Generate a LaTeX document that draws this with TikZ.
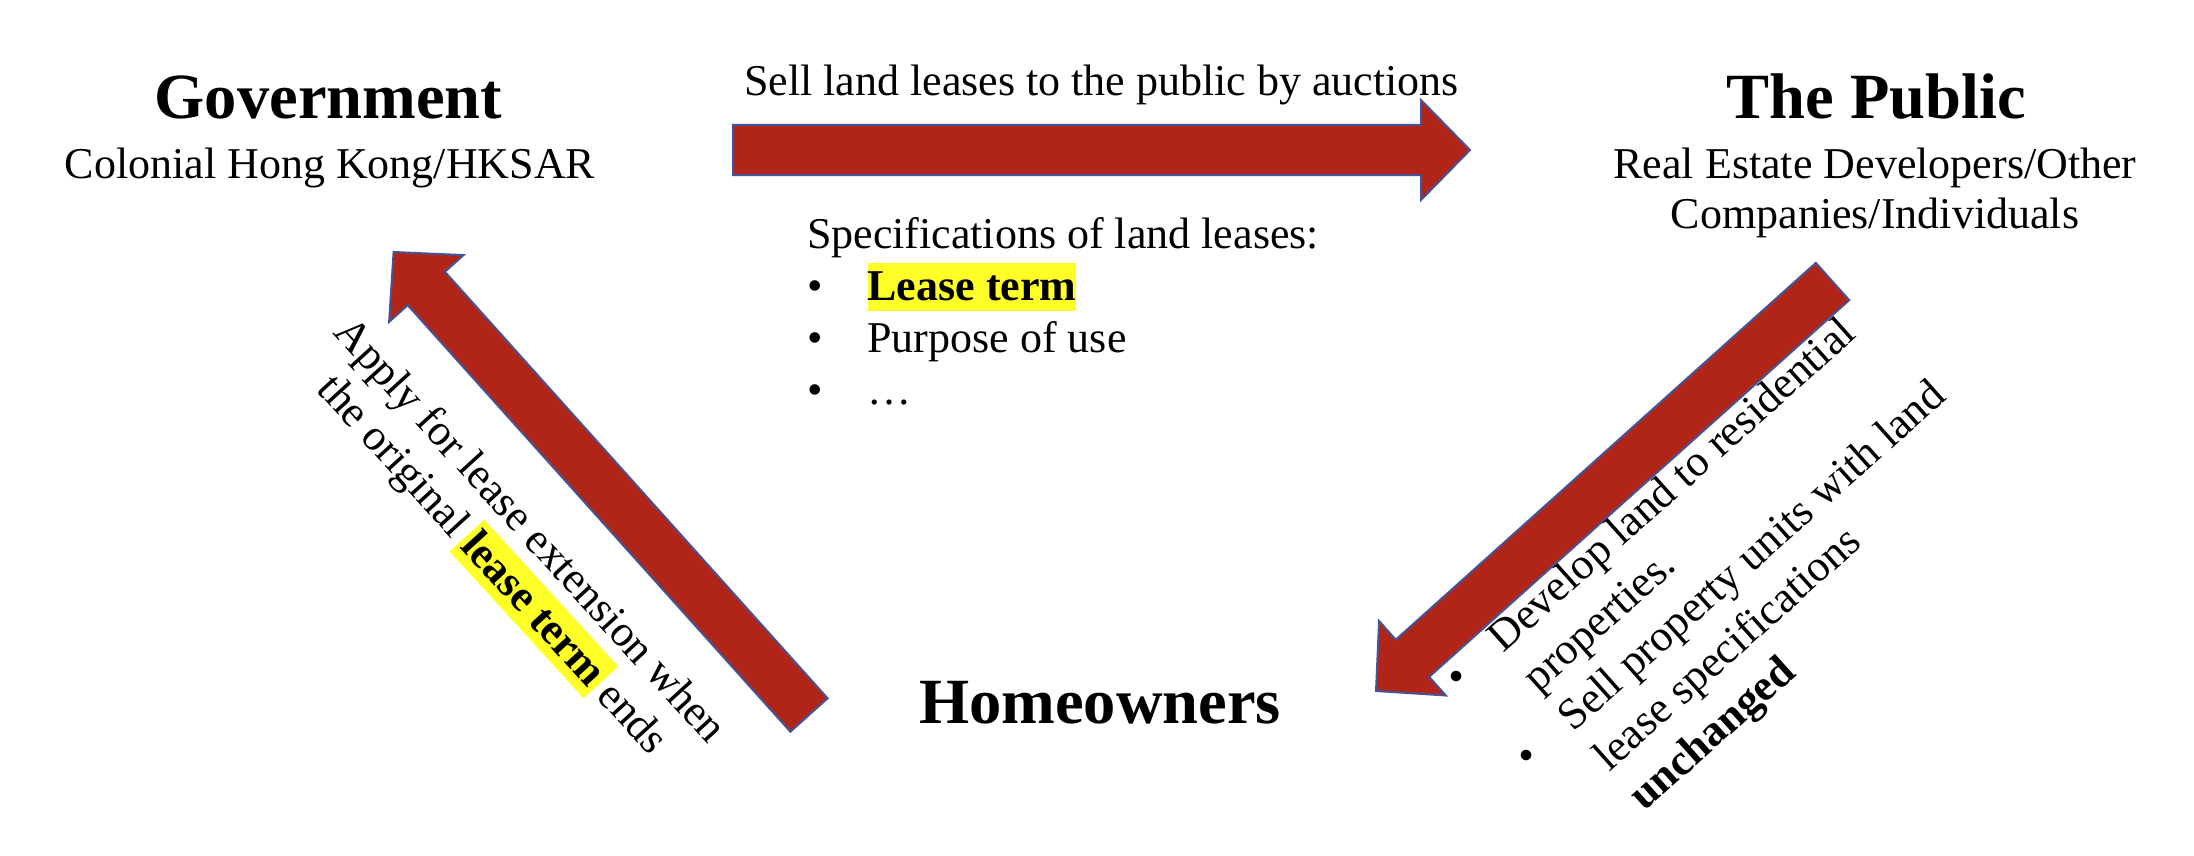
\documentclass[tikz,border=0pt]{standalone}
\usepackage{fontspec}
\setmainfont{Liberation Serif}
\usetikzlibrary{calc}
\definecolor{arrowfill}{RGB}{176,37,24}
\definecolor{arrowline}{RGB}{68,84,150}
\definecolor{hlyellow}{RGB}{255,255,40}
\newlength\hlw
% #1 text, #2 depth, #3 total height, #4 side padding
\newcommand\hlbox[4]{\settowidth\hlw{#1}\smash{\rlap{\hspace*{-#4}\textcolor{hlyellow}{\rule[-#2]{\dimexpr\hlw+#4+#4\relax}{#3}}}}#1}
\newcommand\fatarrow[2]{%
  \coordinate (#1-b) at ($(#2)!49pt!(#1)$);
  \draw[fat] ($(#1)!25pt!90:(#2)$) -- ($(#1-b)!25pt!-90:(#1)$) -- ($(#1-b)!50pt!-90:(#1)$) -- (#2)
    -- ($(#1-b)!50pt!90:(#1)$) -- ($(#1-b)!25pt!90:(#1)$) -- ($(#1)!25pt!-90:(#2)$) -- cycle;}
\begin{document}
\begin{tikzpicture}[x=1pt,y=-1pt,
  every node/.style={inner sep=0pt,outer sep=0pt},
  fat/.style={fill=arrowfill,draw=arrowline,line width=2pt,line join=miter},
  title/.style={font=\fontsize{64.5}{74}\selectfont\bfseries},
  body/.style={font=\fontsize{44}{50.6}\selectfont}]
\fill[white] (0,0) rectangle (2194,856);
\useasboundingbox (0,0) rectangle (2194,856);

% arrows
\coordinate (a1s) at (733,150);    \coordinate (a1e) at (1470,150);
\coordinate (a2s) at (1832.5,281.5); \coordinate (a2e) at (1376,691);
\coordinate (a3s) at (809,715);    \coordinate (a3e) at (393.6,252);
\fatarrow{a1s}{a1e}
\fatarrow{a2s}{a2e}
\fatarrow{a3s}{a3e}

% parties
\node[title,anchor=base] (gov) at (328.5,118) {Government};
\node[body,anchor=base] (govsub) at (330,178) {Colonial Hong Kong/HKSAR};
\node[title,anchor=base] (pub) at (1876,118) {The Public};
\node[body,anchor=base] (pubsub1) at (1875,178) {Real Estate Developers/Other};
\node[body,anchor=base] (pubsub2) at (1875,228) {Companies/Individuals};
\node[title,anchor=base] (home) at (1100,723) {Homeowners};

% labels
\node[body,anchor=base] (sell) at (1101.5,96) {Sell land leases to the public by auctions};

\node[body,anchor=base west] (spec) at (807,248.5) {\fontsize{44}{52}\selectfont\begin{tabular}[t]{@{}l@{}}
Specifications of land leases:\\
\makebox[60.5pt][l]{\textbullet}\hlbox{\textbf{Lease term}}{10pt}{48pt}{0pt}\\
\makebox[60.5pt][l]{\textbullet}Purpose of use\\
\makebox[60.5pt][l]{\textbullet}…
\end{tabular}};

\node[body,anchor=base,rotate=-47.6] (ext) at (520.5,539.3) {\begin{tabular}[t]{@{}c@{}}
Apply for lease extension when\\
the original \hlbox{\textbf{lease term}}{10pt}{47pt}{3.5pt} ends
\end{tabular}};

\node[body,anchor=base west,rotate=41.8] (dev) at (1460.3,692.1) {\fontsize{44}{53}\selectfont\begin{tabular}[t]{@{}l@{}}
\makebox[57.7pt][l]{\textbullet}Develop land to residential\\
\hspace*{57.7pt}properties.\\
\makebox[57.7pt][l]{\textbullet}Sell property units with land\\
\hspace*{57.7pt}lease specifications\\
\hspace*{57.7pt}\textbf{unchanged}
\end{tabular}};
\end{tikzpicture}
\end{document}
